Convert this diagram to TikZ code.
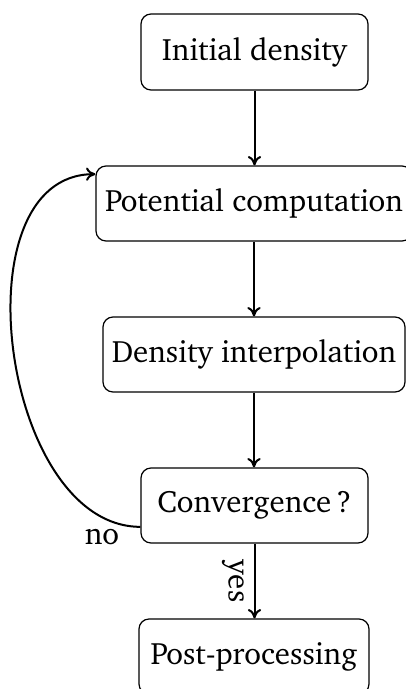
\documentclass[tikz,border=0pt]{standalone}
\usepackage[T1]{fontenc}
\renewcommand{\rmdefault}{bch}
\usetikzlibrary{arrows.meta}
\tikzset{
  stepbox/.style={draw, rounded corners=7.5pt, line width=0.9pt, align=center,
    inner sep=0pt, font=\fontsize{23.2}{27}\selectfont},
  flow/.style={draw, line width=1.5pt, -{To[length=7pt,width=10pt]}},
  lbl/.style={inner sep=0pt, font=\fontsize{23.2}{27}\selectfont}
}
\begin{document}
\begin{tikzpicture}[x=0.75pt, y=-0.75pt]
\useasboundingbox (0,0) rectangle (406,689);
\node[stepbox, minimum width=170.25pt, minimum height=57pt] (init) at (254.5,52) {Initial density};
\node[stepbox, minimum width=237pt, minimum height=56.25pt] (pot) at (254,203.5) {Potential computation};
\node[stepbox, minimum width=226.5pt, minimum height=56.25pt] (dens) at (254,354.5) {Density interpolation};
\node[stepbox, minimum width=170.25pt, minimum height=56.25pt] (conv) at (254.5,505.5) {Convergence\,?};
\node[stepbox, minimum width=172.5pt, minimum height=56.25pt] (post) at (254,656.5) {Post-processing};
\draw[flow] (init.south) -- (init.south |- pot.north);
\draw[flow] (pot.south) -- (pot.south |- dens.north);
\draw[flow] (dens.south) -- (dens.south |- conv.north);
\draw[flow] (conv.south) -- (conv.south |- post.north);
\draw[flow] ([yshift=-16pt]conv.west) to[out=180, in=180, looseness=1] ([yshift=22pt]pot.west);
\node[lbl] (no) at (102,537) {no};
\node[lbl, rotate=-90] (yes) at (233,581) {yes};
\end{tikzpicture}
\end{document}
